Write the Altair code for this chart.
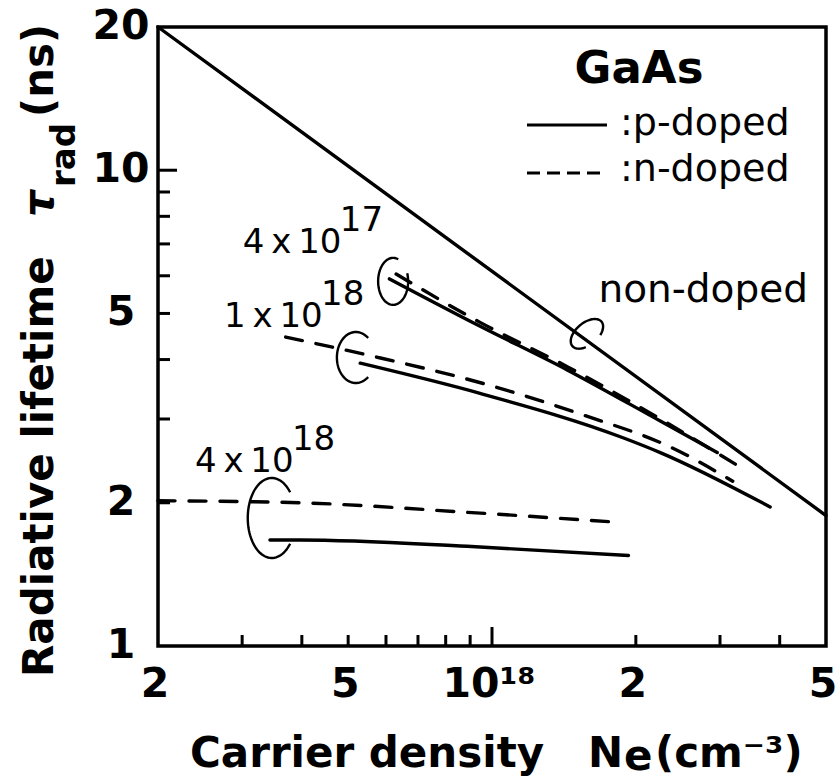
import altair as alt
import numpy as np
import pandas as pd

FONT = "DejaVu Sans"
W, H = 668, 619

# Axis ranges (log-log)
N_MIN, N_MAX = 2e17, 5e18
TAU_MIN, TAU_MAX = 1, 20

# Non-doped GaAs
nondoped_N = [2.0e17, 5.0e18]
nondoped_tau = [20.0, 1.88]

# Doped GaAs, grouped by doping level (p: solid, n: dashed)
p4e17_N = [6.1e17, 9.4e17, 1.44e18, 2.25e18, 2.96e18]
p4e17_tau = [5.91, 4.71, 3.80, 2.97, 2.55]
n4e17_N = [6.3e17, 9.4e17, 1.44e18, 2.25e18, 3.3e18]
n4e17_tau = [6.05, 4.80, 3.86, 3.00, 2.38]

p1e18_N = [5.3e17, 9.4e17, 1.88e18, 2.25e18, 3.82e18]
p1e18_tau = [3.93, 3.40, 2.74, 2.55, 1.96]
n1e18_N = [3.7e17, 5.6e17, 9.8e17, 1.55e18, 2.38e18, 3.19e18]
n1e18_tau = [4.46, 4.07, 3.54, 3.06, 2.61, 2.22]

p4e18_N = [3.43e17, 3.96e17, 8.87e17, 1.93e18]
p4e18_tau = [1.67, 1.67, 1.62, 1.55]
n4e18_N = [2.0e17, 3.96e17, 8.87e17, 1.83e18]
n4e18_tau = [2.02, 2.00, 1.91, 1.82]

# Axis ticks and labels
x_minor_ticks = [3e17, 4e17, 5e17, 6e17, 7e17, 8e17, 9e17, 2e18, 3e18, 4e18]
x_major_ticks = [1e18]
y_minor_ticks = [2, 3, 4, 5, 6, 7, 8, 9]
y_major_ticks = [10]
x_label_vals = [2e17, 5e17, 1e18, 2e18, 5e18]
x_label_text = ["2", "5", "10¹⁸", "2", "5"]
y_label_vals = [1, 2, 5, 10, 20]
y_label_text = ["1", "2", "5", "10", "20"]

# Doping-level annotations: anchor (N, tau), mantissa and exponent
ann_N = [3.01e17, 2.75e17, 2.39e17]
ann_tau = [6.70, 4.68, 2.32]
ann_base = ["4\u2009x\u200910", "1\u2009x\u200910", "4\u2009x\u200910"]
ann_exp = ["17", "18", "18"]

# Grouping loops around each curve pair: centre (N, tau)
loop_N = [6.21e17, 5.19e17, 3.46e17, 1.58e18]
loop_tau = [5.84, 4.04, 1.858, 4.53]


def loop_path(a, b, t0, t1, rot=0.0):
    """Open elliptical arc in pixel units (symbol size 4 -> unit scale)."""
    t = np.radians(np.linspace(t0, t1, 72))
    x, y = a * np.cos(t), b * np.sin(t)
    r = np.radians(rot)
    xr = x * np.cos(r) - y * np.sin(r)
    yr = x * np.sin(r) + y * np.cos(r)
    pts = [f"{px:.2f} {py:.2f}" for px, py in zip(xr, yr)]
    return "M" + pts[0] + " L" + " L".join(pts[1:])


loop_shapes = [
    loop_path(15, 23.5, -20, 290),
    loop_path(19, 25.5, 50, 310),
    loop_path(24, 40, 40, 320),
    loop_path(19, 11, 120, 420, rot=-40),
]

xs = alt.Scale(type="log", domain=[N_MIN, N_MAX], nice=False)
ys = alt.Scale(type="log", domain=[TAU_MIN, TAU_MAX], nice=False)


def series(name, style, Ns, taus):
    return pd.DataFrame({"N": Ns, "tau": taus, "series": name, "style": style,
                         "order": range(len(Ns))})


curves = pd.concat([
    series("non-doped", "solid", nondoped_N, nondoped_tau),
    series("p 4e17", "solid", p4e17_N, p4e17_tau),
    series("n 4e17", "dashed", n4e17_N, n4e17_tau),
    series("p 1e18", "solid", p1e18_N, p1e18_tau),
    series("n 1e18", "dashed", n1e18_N, n1e18_tau),
    series("p 4e18", "solid", p4e18_N, p4e18_tau),
    series("n 4e18", "dashed", n4e18_N, n4e18_tau),
], ignore_index=True)

X = alt.X("N:Q", scale=xs, axis=None)
Y = alt.Y("tau:Q", scale=ys, axis=None)

base = alt.Chart(curves)
solid = base.transform_filter(alt.datum.style == "solid").mark_line(
    color="black", strokeWidth=3.4, strokeCap="round", interpolate="monotone"
).encode(x=X, y=Y, detail="series:N", order="order:Q")
dashed = base.transform_filter(alt.datum.style == "dashed").mark_line(
    color="black", strokeWidth=3.4, strokeDash=[17, 14], strokeCap="round",
    interpolate="monotone"
).encode(x=X, y=Y, detail="series:N", order="order:Q")

# Inward ticks
tick_style = dict(color="black", strokeWidth=3)
xt_minor = alt.Chart(pd.DataFrame({"N": x_minor_ticks})).mark_rule(**tick_style).encode(
    x=X, y=alt.value(H), y2=alt.value(H - 11))
xt_major = alt.Chart(pd.DataFrame({"N": x_major_ticks})).mark_rule(**tick_style).encode(
    x=X, y=alt.value(H), y2=alt.value(H - 19))
yt_minor = alt.Chart(pd.DataFrame({"tau": y_minor_ticks})).mark_rule(**tick_style).encode(
    y=Y, x=alt.value(0), x2=alt.value(12))
yt_major = alt.Chart(pd.DataFrame({"tau": y_major_ticks})).mark_rule(**tick_style).encode(
    y=Y, x=alt.value(0), x2=alt.value(19))

# Tick labels
bold_lbl = dict(font=FONT, fontSize=41, fontWeight="bold", color="black")
x_labels = alt.Chart(pd.DataFrame({"N": x_label_vals, "label": x_label_text})).mark_text(
    align="center", baseline="alphabetic", dx=-3, **bold_lbl
).encode(x=X, y=alt.value(670), text="label:N")
y_labels = alt.Chart(pd.DataFrame({"tau": y_label_vals, "label": y_label_text})).mark_text(
    align="center", baseline="middle", **bold_lbl
).encode(y=Y, x=alt.value(-37), text="label:N")

# Doping-level annotations
ann_df = pd.DataFrame({"N": ann_N, "tau": ann_tau, "base": ann_base, "exp": ann_exp})
ann_txt = dict(font=FONT, fontSize=34, color="black", align="left", baseline="alphabetic")
ann_base_l = alt.Chart(ann_df).mark_text(**ann_txt).encode(x=X, y=Y, text="base:N")
ann_exp_l = alt.Chart(ann_df).mark_text(dx=97, dy=-22, **ann_txt).encode(x=X, y=Y, text="exp:N")
nondoped_l = alt.Chart(pd.DataFrame({"N": [1.67e18], "tau": [5.28], "t": ["non-doped"]})).mark_text(
    font=FONT, fontSize=39, color="black", align="left", baseline="alphabetic"
).encode(x=X, y=Y, text="t:N")

loops = alt.Chart(pd.DataFrame({"N": loop_N, "tau": loop_tau, "shape": loop_shapes})).mark_point(
    filled=False, color="black", strokeWidth=2.4, size=4, opacity=1
).encode(x=X, y=Y, shape=alt.Shape("shape:N", scale=None))

# Legend block
legend_rules = pd.DataFrame({"x1": [369], "x2": [449]})
leg_solid = alt.Chart(legend_rules).mark_rule(color="black", strokeWidth=3).encode(
    x=alt.value(369), x2=alt.value(449), y=alt.value(98))
leg_dash = alt.Chart(legend_rules).mark_rule(color="black", strokeWidth=3, strokeDash=[13, 7]).encode(
    x=alt.value(369), x2=alt.value(449), y=alt.value(146))
legend_txt = alt.Chart(pd.DataFrame({"t": [":p-doped", ":n-doped"], "yy": [108, 154]})).mark_text(
    font=FONT, fontSize=38, color="black", align="left", baseline="alphabetic"
).encode(x=alt.value(462), y=alt.Y("yy:Q", scale=None, axis=None), text="t:N")
gaas = alt.Chart(pd.DataFrame({"t": ["GaAs"]})).mark_text(
    font=FONT, fontSize=45, fontWeight="bold", color="black", align="center", baseline="alphabetic"
).encode(x=alt.value(481), y=alt.value(56), text="t:N")

# Axis titles with sub/superscripts
title_style = dict(font=FONT, fontSize=42, fontWeight="bold", color="black", baseline="alphabetic")
xt_parts = pd.DataFrame({"t": ["Carrier density", "N", "(cm⁻³)"], "px": [32, 430, 497]})
x_title = alt.Chart(xt_parts).mark_text(align="left", **title_style).encode(
    x=alt.X("px:Q", scale=None, axis=None), y=alt.value(740), text="t:N")
x_title_sub = alt.Chart(pd.DataFrame({"t": ["e"]})).mark_text(align="left", **title_style).encode(
    x=alt.value(466), y=alt.value(743), text="t:N")

yt_parts = pd.DataFrame({"t": ["Radiative lifetime", "(ns)"], "py": [650, 90]})
y_title = alt.Chart(yt_parts).mark_text(align="left", angle=270, **title_style).encode(
    x=alt.value(-105), y=alt.Y("py:Q", scale=None, axis=None), text="t:N")
y_tau = alt.Chart(pd.DataFrame({"t": ["τ"]})).mark_text(
    align="left", angle=270, fontStyle="italic", **title_style
).encode(x=alt.value(-105), y=alt.value(190), text="t:N")
y_sub = alt.Chart(pd.DataFrame({"t": ["rad"]})).mark_text(
    align="left", angle=270, font=FONT, fontSize=34, fontWeight="bold", color="black",
    baseline="alphabetic"
).encode(x=alt.value(-83), y=alt.value(160), text="t:N")

chart = alt.layer(
    xt_minor, xt_major, yt_minor, yt_major,
    solid, dashed, loops,
    x_labels, y_labels,
    ann_base_l, ann_exp_l, nondoped_l,
    leg_solid, leg_dash, legend_txt, gaas,
    x_title, x_title_sub, y_title, y_tau, y_sub,
).resolve_scale(x="independent", y="independent").properties(
    width=W, height=H,
    autosize=alt.AutoSizeParams(type="none"),
    padding={"left": 158, "top": 27, "right": 11, "bottom": 137},
    background="white",
).configure_view(stroke="black", strokeWidth=3.5)

chart.save("out.html", embed_options={"renderer": "svg", "actions": False})
